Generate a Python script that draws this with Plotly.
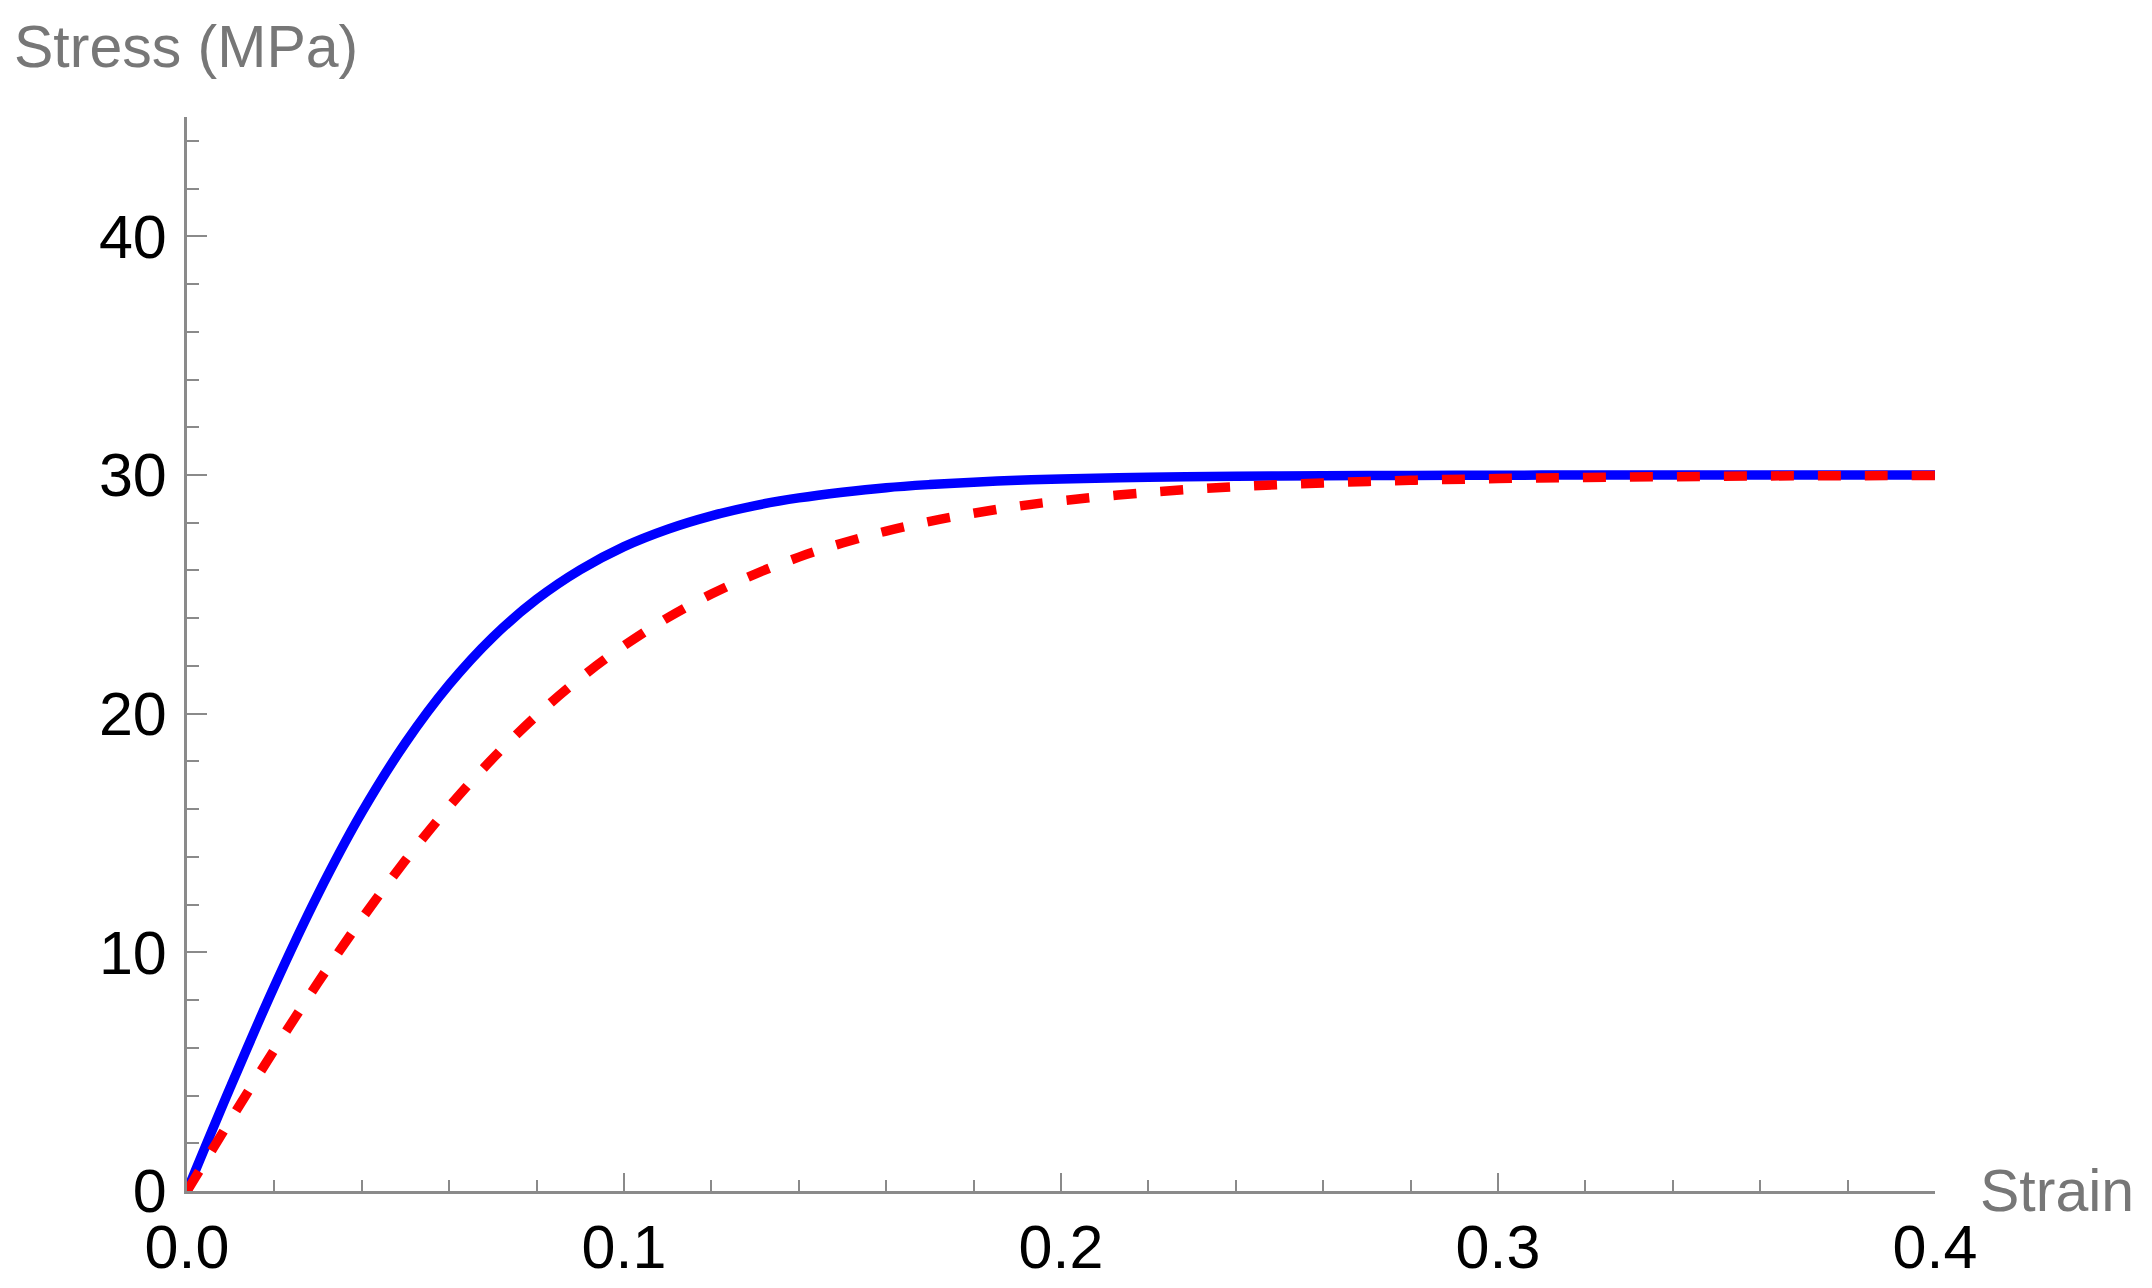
import plotly.graph_objects as go

# Data
strain = [0.0, 0.01, 0.02, 0.03, 0.04, 0.05, 0.06, 0.07, 0.08, 0.09, 0.10,
          0.11, 0.12, 0.13, 0.14, 0.15, 0.16, 0.17, 0.18, 0.19, 0.20,
          0.22, 0.24, 0.26, 0.28, 0.30, 0.32, 0.34, 0.36, 0.38, 0.40]
stress_solid = [0.0, 4.38, 8.58, 12.44, 15.86, 18.78, 21.22, 23.21, 24.79, 26.03, 27.00,
                27.73, 28.29, 28.72, 29.04, 29.28, 29.47, 29.60, 29.70, 29.78, 29.83,
                29.91, 29.95, 29.97, 29.98, 29.99, 30.0, 30.0, 30.0, 30.0, 30.0]
stress_dashed = [0.0, 2.99, 5.92, 8.74, 11.40, 13.86, 16.11, 18.13, 19.92, 21.49, 22.85,
                 24.02, 25.01, 25.85, 26.56, 27.15, 27.65, 28.06, 28.40, 28.69, 28.92,
                 29.27, 29.51, 29.67, 29.78, 29.85, 29.90, 29.93, 29.96, 29.97, 29.98]

x_tickvals = [0.0, 0.1, 0.2, 0.3, 0.4]
x_ticktext = ["0.0", "0.1", "0.2", "0.3", "0.4"]
y_tickvals = [0, 10, 20, 30, 40]
y_ticktext = ["0", "10", "20", "30", "40"]

x_title = "Strain"
y_title = "Stress (MPa)"

FONT = "Liberation Sans, Arial, sans-serif"
AXIS_COLOR = "#8a8a8a"

fig = go.Figure()
fig.add_trace(go.Scatter(
    x=strain, y=stress_solid, mode="lines",
    line=dict(color="#0000ff", width=9.5, shape="spline"),
    showlegend=False, hoverinfo="skip"))
fig.add_trace(go.Scatter(
    x=strain, y=stress_dashed, mode="lines",
    line=dict(color="#ff0000", width=9.5, dash="23px,24px", shape="spline"),
    showlegend=False, hoverinfo="skip"))

fig.update_layout(
    width=2152, height=1288,
    margin=dict(l=179, r=225, t=109, b=105),
    paper_bgcolor="white", plot_bgcolor="white",
    font=dict(family=FONT, color="black"),
    xaxis=dict(
        range=[0, 0.4], showgrid=False, zeroline=False, automargin=False,
        showline=True, linecolor=AXIS_COLOR, linewidth=3,
        tickvals=x_tickvals, ticktext=x_ticktext,
        ticks="inside", ticklen=18, tickwidth=2, tickcolor=AXIS_COLOR,
        tickfont=dict(size=61, color="black", family=FONT),
        ticklabelstandoff=1,
        minor=dict(ticks="inside", ticklen=11, tickwidth=2, tickcolor=AXIS_COLOR,
                   dtick=0.02, tick0=0, showgrid=False),
    ),
    yaxis=dict(
        range=[0, 45], showgrid=False, zeroline=False, automargin=False,
        showline=True, linecolor=AXIS_COLOR, linewidth=3,
        tickvals=y_tickvals, ticktext=y_ticktext,
        ticks="inside", ticklen=20, tickwidth=2, tickcolor=AXIS_COLOR,
        tickfont=dict(size=61, color="black", family=FONT),
        ticklabelstandoff=5,
        minor=dict(ticks="inside", ticklen=12, tickwidth=2, tickcolor=AXIS_COLOR,
                   dtick=2, tick0=0, showgrid=False),
    ),
    annotations=[
        dict(text=y_title, xref="paper", yref="paper", x=0, y=1,
             xanchor="left", yanchor="middle", xshift=-175, yshift=70,
             showarrow=False, font=dict(size=59, color="#777777", family=FONT)),
        dict(text=x_title, xref="paper", yref="paper", x=1, y=0,
             xanchor="left", yanchor="middle", xshift=43, yshift=0,
             showarrow=False, font=dict(size=59, color="#777777", family=FONT)),
    ],
)

fig.write_html("out.html")
